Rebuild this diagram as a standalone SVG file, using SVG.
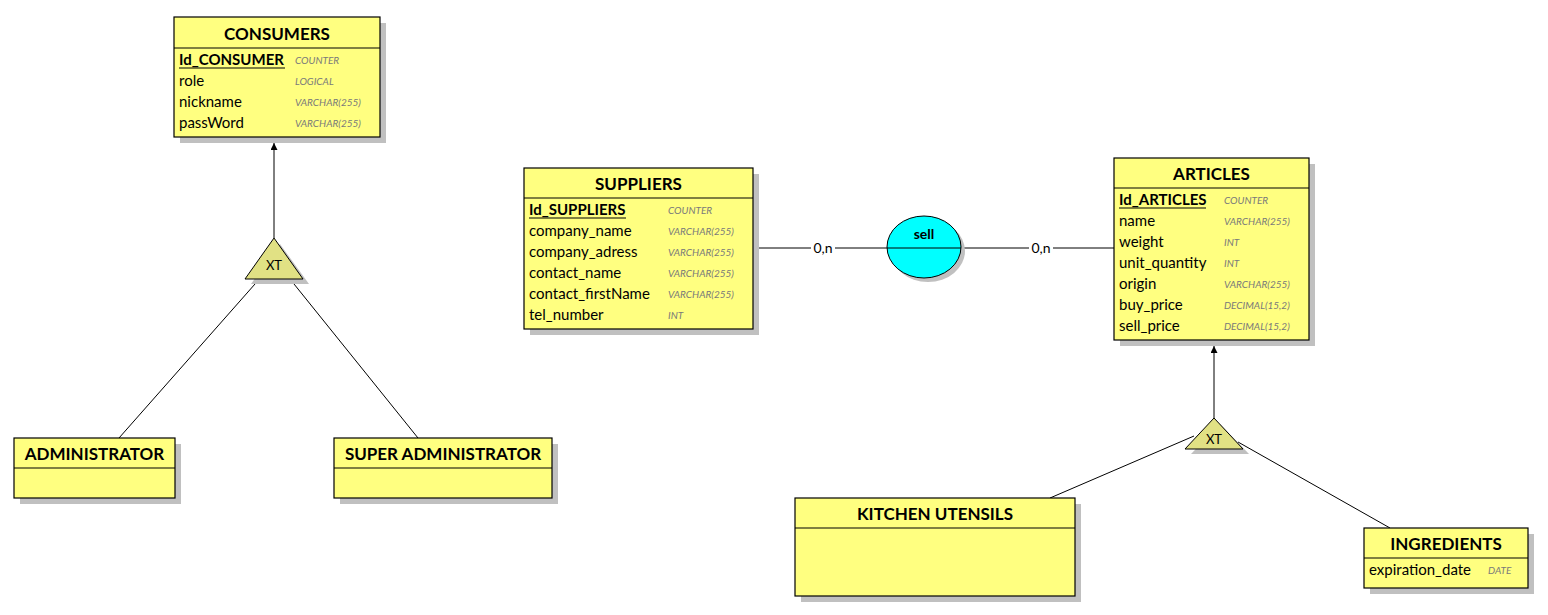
<svg xmlns="http://www.w3.org/2000/svg" width="1548" height="615" viewBox="0 0 1548 615">
<style>
.box{fill:#ffff80;stroke:#000;stroke-width:1.2}
.sh{fill:#c0c0c0}
.sep{stroke:#000;stroke-width:1.2}
.ttl{font-family:Lato,"Liberation Sans",sans-serif;font-weight:bold;font-size:17px;text-anchor:middle;fill:#000}
.fld{font-family:Lato,"Liberation Sans",sans-serif;font-size:15px;fill:#000}
.key{font-weight:bold}
.typ{font-family:Lato,"Liberation Sans",sans-serif;font-size:10px;font-style:italic;fill:#7a7a7a}
.ln{stroke:#000;stroke-width:1;fill:none}
.card{font-family:Lato,"Liberation Sans",sans-serif;font-size:14px;text-anchor:middle;fill:#000}
.tri{fill:#e1e184;stroke:#000;stroke-width:1}
</style>
<defs>
<marker id="arr" viewBox="0 0 10 10" refX="10" refY="5" markerWidth="7" markerHeight="7" orient="auto" markerUnits="userSpaceOnUse">
<path d="M0,0 L10,5 L0,10 Z" fill="#000"/>
</marker>
</defs>

<g id="connectors">
<line class="ln" x1="274" y1="238" x2="274" y2="143" marker-end="url(#arr)"/>
<line class="ln" x1="255" y1="284" x2="119" y2="438"/>
<line class="ln" x1="294" y1="284" x2="418" y2="438"/>
<line class="ln" x1="1214" y1="418" x2="1214" y2="346" marker-end="url(#arr)"/>
<line class="ln" x1="1194" y1="436" x2="1050" y2="498"/>
<line class="ln" x1="1238" y1="442" x2="1390" y2="528"/>
<line class="ln" x1="753" y1="248" x2="1114" y2="248"/>
<rect x="811" y="240" width="24" height="16" fill="#fff"/>
<text class="card" x="823" y="253">0,n</text>
<rect x="1029" y="240" width="24" height="16" fill="#fff"/>
<text class="card" x="1041" y="253">0,n</text>
</g>

<g id="consumers">
<rect class="sh" x="180" y="23" width="206" height="120"/>
<rect class="box" x="174" y="17" width="206" height="120"/>
<line class="sep" x1="174" y1="48" x2="380" y2="48"/>
<text class="ttl" x="277" y="40">CONSUMERS</text>
<text class="fld key" x="179" y="65">Id_CONSUMER</text>
<line x1="179" y1="68" x2="285" y2="68" stroke="#000" stroke-width="1.2"/>
<text class="typ" x="295" y="64">COUNTER</text>
<text class="fld" x="179" y="86">role</text>
<text class="typ" x="295" y="85">LOGICAL</text>
<text class="fld" x="179" y="107">nickname</text>
<text class="typ" x="295" y="106">VARCHAR(255)</text>
<text class="fld" x="179" y="128">passWord</text>
<text class="typ" x="295" y="127">VARCHAR(255)</text>
</g>

<g id="xt-consumers">
<polygon class="sh" points="280,244 309,284 251,284"/>
<polygon class="tri" points="274,238 303,279 245,279"/>
<text class="fld" x="274" y="270" text-anchor="middle" style="font-size:13px">XT</text>
</g>

<g id="administrator">
<rect class="sh" x="20" y="444" width="161" height="60"/>
<rect class="box" x="14" y="438" width="161" height="60"/>
<line class="sep" x1="14" y1="468" x2="175" y2="468"/>
<text class="ttl" x="94.5" y="460">ADMINISTRATOR</text>
</g>

<g id="super-administrator">
<rect class="sh" x="340" y="444" width="218" height="60"/>
<rect class="box" x="334" y="438" width="218" height="60"/>
<line class="sep" x1="334" y1="468" x2="552" y2="468"/>
<text class="ttl" x="443" y="460">SUPER ADMINISTRATOR</text>
</g>

<g id="suppliers">
<rect class="sh" x="530" y="174" width="229" height="161"/>
<rect class="box" x="524" y="168" width="229" height="161"/>
<line class="sep" x1="524" y1="198" x2="753" y2="198"/>
<text class="ttl" x="638.5" y="190">SUPPLIERS</text>
<text class="fld key" x="529" y="215">Id_SUPPLIERS</text>
<line x1="529" y1="218" x2="626" y2="218" stroke="#000" stroke-width="1.2"/>
<text class="typ" x="668" y="214">COUNTER</text>
<text class="fld" x="529" y="236">company_name</text>
<text class="typ" x="668" y="235">VARCHAR(255)</text>
<text class="fld" x="529" y="257">company_adress</text>
<text class="typ" x="668" y="256">VARCHAR(255)</text>
<text class="fld" x="529" y="278">contact_name</text>
<text class="typ" x="668" y="277">VARCHAR(255)</text>
<text class="fld" x="529" y="299">contact_firstName</text>
<text class="typ" x="668" y="298">VARCHAR(255)</text>
<text class="fld" x="529" y="320">tel_number</text>
<text class="typ" x="668" y="319">INT</text>
</g>

<g id="sell">
<ellipse cx="928" cy="251" rx="37" ry="31" fill="#c0c0c0"/>
<ellipse cx="924" cy="247" rx="37" ry="31" fill="#00ffff" stroke="#000" stroke-width="1"/>
<line class="ln" x1="887" y1="248" x2="961" y2="248"/>
<text class="ttl" x="924" y="239" style="font-size:14px">sell</text>
</g>

<g id="articles">
<rect class="sh" x="1120" y="164" width="195" height="182"/>
<rect class="box" x="1114" y="158" width="195" height="182"/>
<line class="sep" x1="1114" y1="188" x2="1309" y2="188"/>
<text class="ttl" x="1211.5" y="180">ARTICLES</text>
<text class="fld key" x="1119" y="205">Id_ARTICLES</text>
<line x1="1119" y1="208" x2="1206" y2="208" stroke="#000" stroke-width="1.2"/>
<text class="typ" x="1224" y="204">COUNTER</text>
<text class="fld" x="1119" y="226">name</text>
<text class="typ" x="1224" y="225">VARCHAR(255)</text>
<text class="fld" x="1119" y="247">weight</text>
<text class="typ" x="1224" y="246">INT</text>
<text class="fld" x="1119" y="268">unit_quantity</text>
<text class="typ" x="1224" y="267">INT</text>
<text class="fld" x="1119" y="289">origin</text>
<text class="typ" x="1224" y="288">VARCHAR(255)</text>
<text class="fld" x="1119" y="310">buy_price</text>
<text class="typ" x="1224" y="309">DECIMAL(15,2)</text>
<text class="fld" x="1119" y="331">sell_price</text>
<text class="typ" x="1224" y="330">DECIMAL(15,2)</text>
</g>

<g id="xt-articles">
<polygon class="sh" points="1220,424 1249,454 1191,454"/>
<polygon class="tri" points="1214,418 1243,449 1185,449"/>
<text class="fld" x="1214" y="444" text-anchor="middle" style="font-size:13px">XT</text>
</g>

<g id="kitchen-utensils">
<rect class="sh" x="801" y="504" width="280" height="98"/>
<rect class="box" x="795" y="498" width="280" height="98"/>
<line class="sep" x1="795" y1="528" x2="1075" y2="528"/>
<text class="ttl" x="935" y="520">KITCHEN UTENSILS</text>
</g>

<g id="ingredients">
<rect class="sh" x="1370" y="534" width="164" height="60"/>
<rect class="box" x="1364" y="528" width="164" height="60"/>
<line class="sep" x1="1364" y1="558" x2="1528" y2="558"/>
<text class="ttl" x="1446" y="550">INGREDIENTS</text>
<text class="fld" x="1369" y="575">expiration_date</text>
<text class="typ" x="1488" y="574">DATE</text>
</g>
</svg>
